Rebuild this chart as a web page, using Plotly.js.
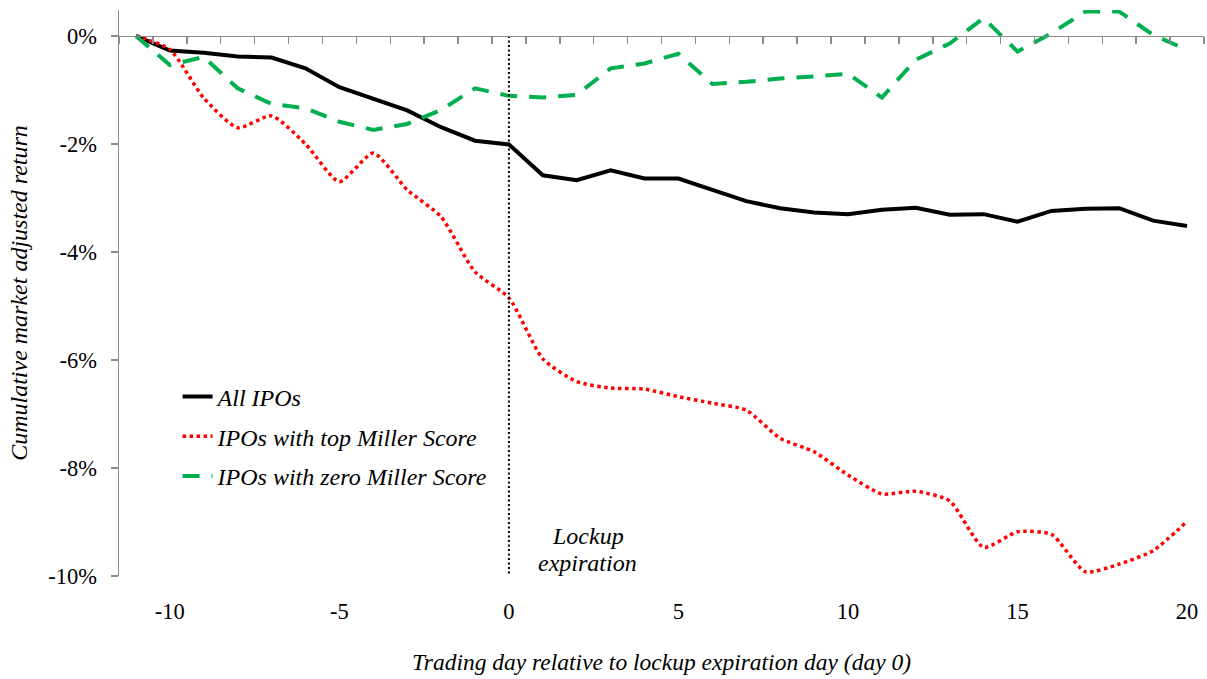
<!DOCTYPE html>
<html>
<head>
<meta charset="utf-8">
<script src="https://cdn.plot.ly/plotly-3.0.1.min.js"></script>
<style>html,body{margin:0;padding:0;background:#fff;}#chart{width:1207px;height:679px;}</style>
</head>
<body>
<div id="chart"></div>
<script>
// Trading days relative to lockup expiration (day 0)
const days = [-11,-10,-9,-8,-7,-6,-5,-4,-3,-2,-1,0,1,2,3,4,5,6,7,8,9,10,11,12,13,14,15,16,17,18,19,20];

// Cumulative market adjusted return (%)
const allIPOs = [0,-0.27,-0.31,-0.38,-0.40,-0.60,-0.95,-1.17,-1.38,-1.69,-1.94,-2.01,
  -2.58,-2.67,-2.49,-2.64,-2.64,-2.85,-3.06,-3.19,-3.27,-3.30,-3.22,-3.18,-3.31,-3.30,-3.44,-3.24,-3.20,-3.19,-3.42,-3.52];

const topMiller = [0,-0.25,-1.15,-1.70,-1.48,-2.00,-2.70,-2.17,-2.85,-3.35,-4.37,-4.85,
  -5.98,-6.40,-6.52,-6.54,-6.68,-6.80,-6.93,-7.45,-7.70,-8.13,-8.48,-8.43,-8.61,-9.47,-9.18,-9.23,-9.92,-9.78,-9.53,-8.99];

const zeroMiller = [0,-0.54,-0.39,-0.97,-1.26,-1.34,-1.59,-1.74,-1.63,-1.37,-0.97,-1.11,
  -1.14,-1.09,-0.60,-0.51,-0.33,-0.89,-0.85,-0.79,-0.75,-0.70,-1.14,-0.44,-0.14,0.33,-0.29,0.05,0.45,0.45,0.02,-0.26];

// Lockup expiration marker (day 0)
const lockupX = [0, 0];
const lockupY = [0, -10];

// Tick labels
const yTickVals = [0,-2,-4,-6,-8,-10];
const yTickText = ['0%','-2%','-4%','-6%','-8%','-10%'];
const xTickVals = [-10,-5,0,5,10,15,20];
const xTickText = ['-10','-5','0','5','10','15','20'];
const xMinorTicks = [];
for (let i = -11; i <= 20; i++) xMinorTicks.push(i + 0.5);
xMinorTicks.unshift(-11.5);

const serif = 'Liberation Serif';

const traces = [
  {x: days, y: allIPOs, name: '<i>All IPOs</i>', mode: 'lines', type: 'scatter',
   line: {color: '#000000', width: 4}, legendgroup: 'a'},
  {x: days, y: topMiller, name: '<i>IPOs with top Miller Score</i>', mode: 'lines', type: 'scatter',
   line: {color: '#FF0000', width: 3.5, dash: 'dot', shape: 'spline', smoothing: 0.6}, legendgroup: 'b'},
  {x: days, y: zeroMiller, name: '<i>IPOs with zero Miller Score</i>', mode: 'lines', type: 'scatter',
   line: {color: '#00B050', width: 4, dash: '17px,12px'}, legendgroup: 'c'},
  {x: lockupX, y: lockupY, mode: 'lines', type: 'scatter', xaxis: 'x2', showlegend: false,
   line: {color: '#000000', width: 2, dash: '2px,2.5px'}, hoverinfo: 'skip'}
];

const yr = [-10, 0.48];
const layout = {
  width: 1207, height: 679,
  margin: {l: 119, r: 3, t: 10, b: 103},
  paper_bgcolor: '#ffffff', plot_bgcolor: '#ffffff',
  font: {family: serif, size: 22.5, color: '#000000'},
  showlegend: true,
  legend: {x: 0.054, y: 0.356, xanchor: 'left', yanchor: 'top', traceorder: 'grouped',
    tracegroupgap: 5.5, font: {family: serif, size: 24, color: '#000'}, bgcolor: 'rgba(0,0,0,0)'},
  xaxis: {range: [-11.5, 20.5], showline: false, showgrid: false, zeroline: false,
    tickmode: 'array', tickvals: xTickVals, ticktext: xTickText, ticks: '',
    ticklabelstandoff: 19,
    tickfont: {family: serif, size: 22.5, color: '#000'},
    title: {text: '<i>Trading day relative to lockup expiration day (day 0)</i>',
      font: {family: serif, size: 23.5, color: '#000'}, standoff: 31}},
  xaxis2: {range: [-11.5, 20.5], overlaying: 'x', anchor: 'free',
    position: (0 - yr[0]) / (yr[1] - yr[0]),
    showline: true, linecolor: '#8c8c8c', linewidth: 1.5, showgrid: false, zeroline: false,
    tickmode: 'array', tickvals: xMinorTicks, ticks: 'outside', ticklen: 7, tickwidth: 1.5,
    tickcolor: '#8c8c8c', showticklabels: false},
  yaxis: {range: yr, showline: true, linecolor: '#8c8c8c', linewidth: 1.5, showgrid: false,
    zeroline: false, tickmode: 'array', tickvals: yTickVals, ticktext: yTickText,
    ticks: 'outside', ticklen: 7, tickwidth: 1.5, tickcolor: '#8c8c8c',
    ticklabelstandoff: 9,
    tickfont: {family: serif, size: 22.5, color: '#000'},
    title: {text: '<i>Cumulative market adjusted return</i>',
      font: {family: serif, size: 24, color: '#000'}, standoff: 14}},
  annotations: [
    {x: 2.32, y: -9.26, xref: 'x', yref: 'y', text: '<i>Lockup</i>',
     showarrow: false, font: {family: serif, size: 24, color: '#000'}, align: 'center'},
    {x: 2.32, y: -9.76, xref: 'x', yref: 'y', text: '<i>expiration</i>',
     showarrow: false, font: {family: serif, size: 24, color: '#000'}, align: 'center'}
  ]
};

Plotly.newPlot('chart', traces, layout, {displayModeBar: false, staticPlot: true});
</script>
</body>
</html>
